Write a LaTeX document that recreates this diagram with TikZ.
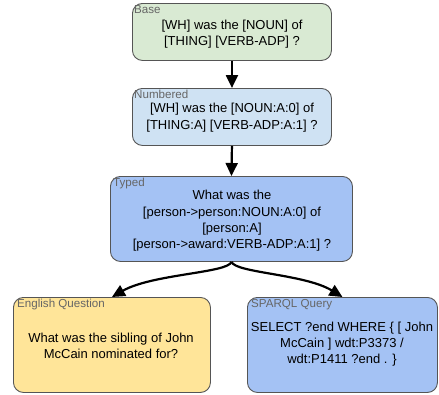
\documentclass[tikz,border=0pt]{standalone}
\usepackage{fontspec}
\setmainfont{Liberation Sans}
\usetikzlibrary{arrows.meta}
\definecolor{bgreen}{HTML}{D9EAD3}
\definecolor{blight}{HTML}{CFE2F3}
\definecolor{bmed}{HTML}{A4C2F4}
\definecolor{byellow}{HTML}{FFE599}
\definecolor{bord}{HTML}{555555}
\definecolor{lab}{HTML}{666666}
\begin{document}
\begin{tikzpicture}[x=1pt,y=-1pt,
  box/.style={draw=bord,line width=0.9pt,rounded corners=10pt,inner sep=0pt,anchor=north west},
  lbl/.style={anchor=north west,inner sep=0pt,text=lab,font=\fontsize{11.6}{12}\selectfont},
  txt/.style={align=center,inner sep=0pt,font=\fontsize{13}{16.3}\selectfont},
  arr/.style={line width=2.2pt,-{Triangle[length=13pt,width=12pt]}}]
\useasboundingbox (0,0) rectangle (439,394);
% boxes
\node[box,fill=bgreen,minimum width=199pt,minimum height=57pt] (base) at (132,3) {};
\node[box,fill=blight,minimum width=199pt,minimum height=57pt] (num) at (132,88) {};
\node[box,fill=bmed,minimum width=242pt,minimum height=85pt] (typed) at (110,176) {};
\node[box,fill=byellow,minimum width=197pt,minimum height=95pt] (eng) at (13,297) {};
\node[box,fill=bmed,minimum width=190pt,minimum height=95pt] (sparql) at (247,297) {};
% labels
\node[lbl] (lbase) at (134,5) {Base};
\node[lbl] (lnum) at (134,90) {Numbered};
\node[lbl] (ltyped) at (113,178) {Typed};
\node[lbl] (leng) at (17,299) {English Question};
\node[lbl] (lsparql) at (251,299) {SPARQL Query};
% texts
\node[txt] (tbase) at (232,34) {[WH] was the [NOUN] of\\\relax[THING] [VERB-ADP] ?};
\node[txt] (tnum) at (232,117.5) {[WH] was the [NOUN:A:0] of\\\relax[THING:A] [VERB-ADP:A:1] ?};
\node[txt] (ttyped) at (232,221) {What was the\\\relax[person->person:NOUN:A:0] of\\\relax[person:A]\\\relax[person->award:VERB-ADP:A:1] ?};
\node[txt] (teng) at (111,346) {What was the sibling of John\\McCain nominated for?};
\node[txt] (tsparql) at (342,344) {SELECT ?end WHERE \{ [ John\\McCain ] wdt:P3373 /\\wdt:P1411 ?end . \}};
% arrows
\draw[arr] (base.south) -- (num.north);
\draw[arr] (num.south) -- (typed.north);
\draw[arr] (typed.south) .. controls (228,273) and (152,274) .. (eng.north);
\draw[arr] (typed.south) .. controls (236,273) and (305,274) .. (sparql.north);
\end{tikzpicture}
\end{document}
